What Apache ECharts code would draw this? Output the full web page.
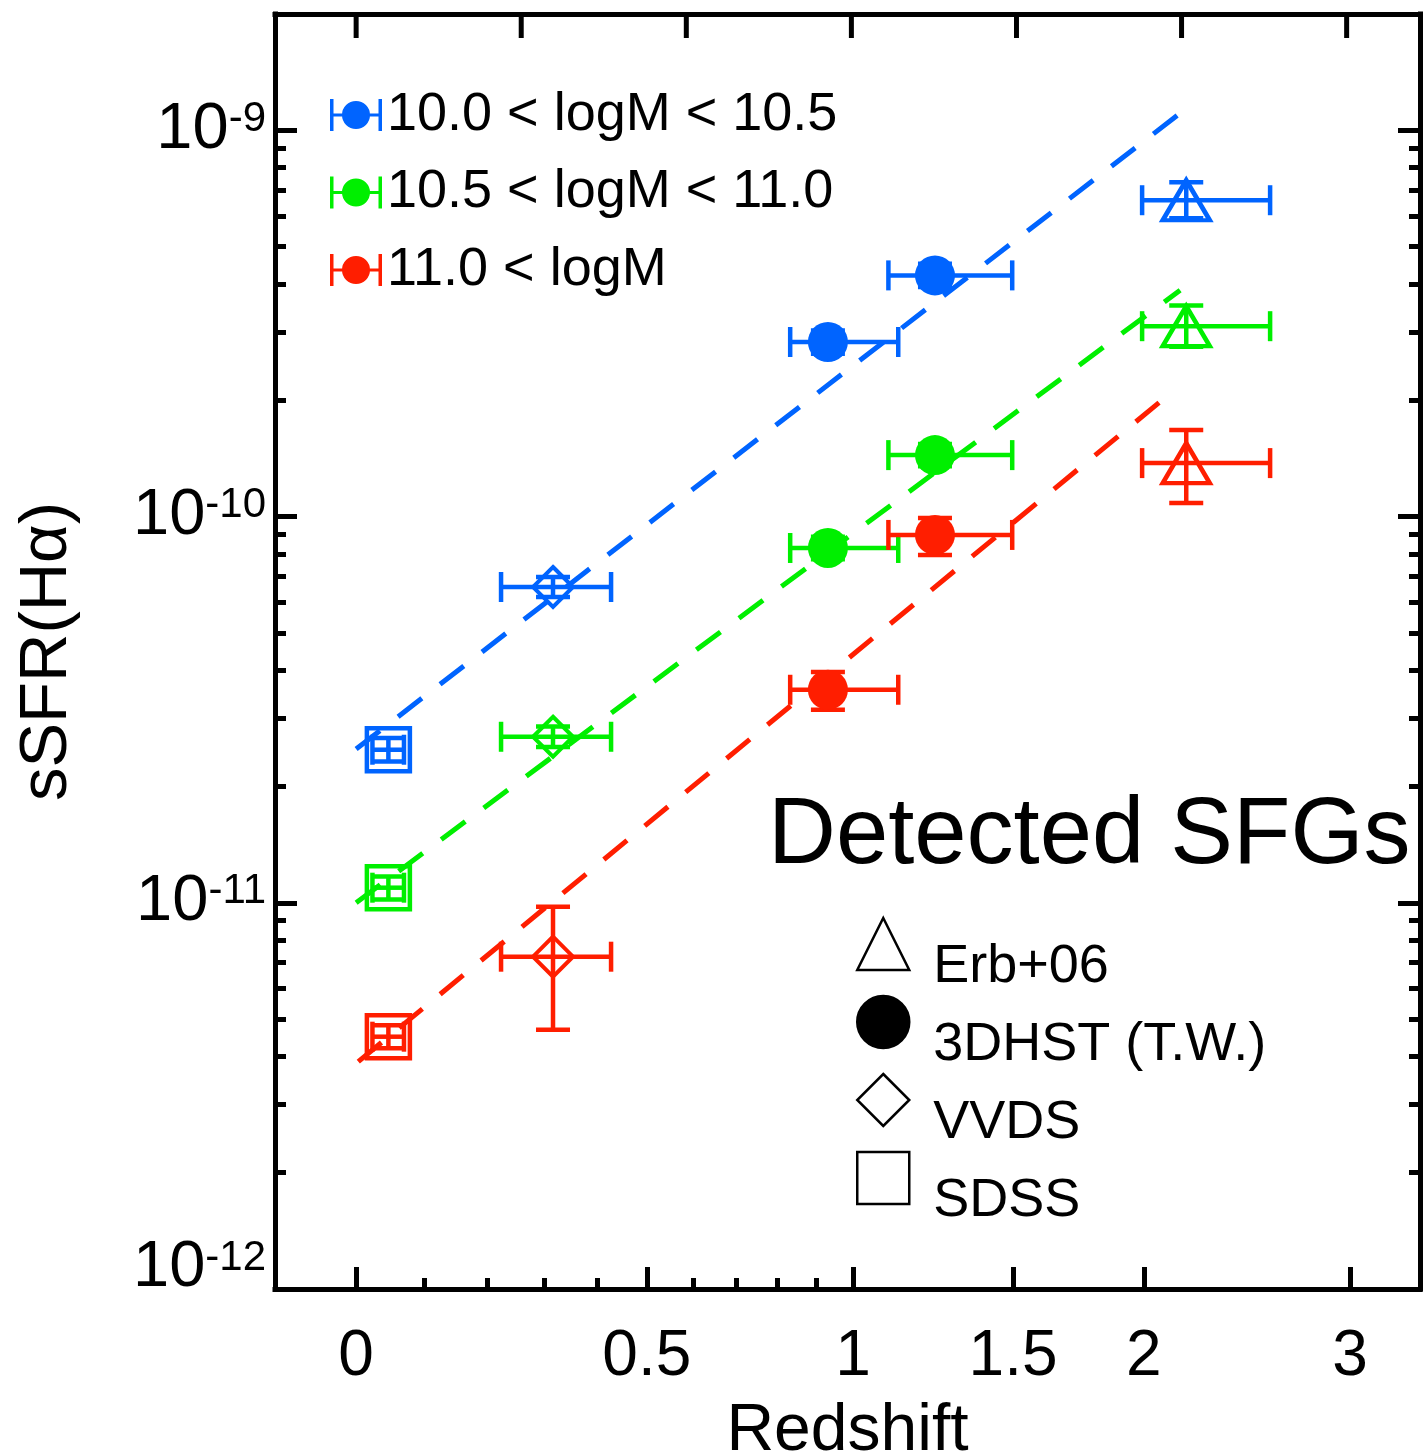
<!DOCTYPE html>
<html>
<head>
<meta charset="utf-8">
<script src="https://cdn.jsdelivr.net/npm/echarts@6/dist/echarts.min.js"></script>
<style>
html,body{margin:0;padding:0;background:#fff;}
#chart{width:1425px;height:1454px;}
</style>
</head>
<body>
<div id="chart"></div>
<script>
// ---------------- DATA ----------------
const massBins = ['10.0 < logM < 10.5', '10.5 < logM < 11.0', '11.0 < logM'];
const surveys = ['Erb+06', '3DHST (T.W.)', 'VVDS', 'SDSS'];
// one entry per measurement redshift bin (SDSS, VVDS, 3DHST low, 3DHST high, Erb+06)
const pointSurvey = ['SDSS', 'VVDS', '3DHST (T.W.)', '3DHST (T.W.)', 'Erb+06'];
const redshift   = [0.046, 0.316, 0.931, 1.242, 2.183];
const redshiftLo = [0.023, 0.224, 0.832, 1.101, 1.993];
const redshiftHi = [0.069, 0.427, 1.130, 1.497, 2.578];

const ssfrBin1   = [2.49e-11, 6.57e-11, 2.83e-10, 4.21e-10, 6.59e-10];
const ssfrBin1Lo = [2.32e-11, 6.19e-11, 2.64e-10, 3.93e-10, 5.92e-10];
const ssfrBin1Hi = [2.67e-11, 6.97e-11, 3.03e-10, 4.51e-10, 7.34e-10];

const ssfrBin2   = [1.094e-11, 2.69e-11, 8.29e-11, 1.442e-10, 3.11e-10];
const ssfrBin2Lo = [1.02e-11, 2.53e-11, 7.75e-11, 1.35e-10, 2.75e-10];
const ssfrBin2Hi = [1.17e-11, 2.86e-11, 8.87e-11, 1.54e-10, 3.52e-10];

const ssfrBin3   = [4.50e-12, 7.25e-12, 3.56e-11, 8.96e-11, 1.375e-10];
const ssfrBin3Lo = [4.20e-12, 4.69e-12, 3.16e-11, 7.95e-11, 1.084e-10];
const ssfrBin3Hi = [4.82e-12, 9.77e-12, 3.96e-11, 9.91e-11, 1.675e-10];

// dashed fits: sSFR ∝ (1+z)^n, drawn between two redshifts
const fitStartZ    = [0.0, 0.0, 0.003];
const fitEndZ      = [2.156, 2.156, 2.09];
const fitStartSSFR = [2.5e-11, 1.0e-11, 3.88e-12];
const fitEndSSFR   = [1.107e-9, 3.855e-10, 2.03e-10];

// axes
const xTickZ = [0, 0.5, 1, 1.5, 2, 3];
const xTickLabels = ['0', '0.5', '1', '1.5', '2', '3'];
const xMinorZ = [0.1, 0.2, 0.3, 0.4, 0.6, 0.7, 0.8, 0.9];
const xTopTicksLog = [0, 0.1, 0.2, 0.3, 0.4, 0.5, 0.6];
const yDecades = [-12, -11, -10, -9];
const zRange = [-0.107, 3.41];
const ssfrRange = [1e-12, 2e-9];

// ---------------- STYLE ----------------
const FONT = "'Liberation Sans', Arial, Helvetica, sans-serif";
const binColors = ['#0064ff', '#00ef00', '#ff1e00'];
const surveySymbol = {'Erb+06': 'triangle', '3DHST (T.W.)': 'circle', 'VVDS': 'diamond', 'SDSS': 'rect'};
const surveySize = {'Erb+06': [47, 40], '3DHST (T.W.)': 40, 'VVDS': 40, 'SDSS': 43};

const lx = z => Math.log10(1 + z);
const ly = v => Math.log10(v);

const ssfr = [ssfrBin1, ssfrBin2, ssfrBin3];
const ssfrLo = [ssfrBin1Lo, ssfrBin2Lo, ssfrBin3Lo];
const ssfrHi = [ssfrBin1Hi, ssfrBin2Hi, ssfrBin3Hi];

const xMin = lx(zRange[0]), xMax = lx(zRange[1]);
const yMin = ly(ssfrRange[0]), yMax = ly(ssfrRange[1]);

const yMinor = [];
yDecades.forEach(d => { for (let k = 2; k <= 9; k++) { const v = d + Math.log10(k); if (v < yMax - 0.001) yMinor.push(v); } });

const series = [];

// dashed fit lines
massBins.forEach((name, b) => {
  series.push({
    name: name, type: 'line', xAxisIndex: 0, yAxisIndex: 0,
    data: [[lx(fitStartZ[b]), ly(fitStartSSFR[b])], [lx(fitEndZ[b]), ly(fitEndSSFR[b])]],
    showSymbol: false, symbol: 'none', silent: true, z: 2,
    color: binColors[b],
    itemStyle: {color: binColors[b]},
    lineStyle: {color: binColors[b], width: 5, type: [30, 23]}
  });
});

// error bars
function makeErrRender(color) {
  return function (params, api) {
    const x = api.value(0), y = api.value(1);
    const c = api.coord([x, y]);
    const xl = api.coord([api.value(2), y])[0];
    const xh = api.coord([api.value(3), y])[0];
    const yl = api.coord([x, api.value(4)])[1];
    const yh = api.coord([x, api.value(5)])[1];
    const capH = 15, capW = 17;
    const st = {stroke: color, lineWidth: 4.5, fill: null};
    const L = (x1, y1, x2, y2) => ({type: 'line', shape: {x1, y1, x2, y2}, style: st});
    return {type: 'group', children: [
      L(xl, c[1], xh, c[1]),
      L(xl, c[1] - capH, xl, c[1] + capH),
      L(xh, c[1] - capH, xh, c[1] + capH),
      L(c[0], yl, c[0], yh),
      L(c[0] - capW, yl, c[0] + capW, yl),
      L(c[0] - capW, yh, c[0] + capW, yh)
    ]};
  };
}
massBins.forEach((name, b) => {
  series.push({
    name: 'err ' + name, type: 'custom', xAxisIndex: 0, yAxisIndex: 0, z: 3, silent: true,
    renderItem: makeErrRender(binColors[b]),
    encode: {x: 0, y: 1},
    data: redshift.map((z, i) => [lx(z), ly(ssfr[b][i]), lx(redshiftLo[i]), lx(redshiftHi[i]), ly(ssfrLo[b][i]), ly(ssfrHi[b][i])])
  });
});

// markers, one series per survey
surveys.forEach(s => {
  const filled = s === '3DHST (T.W.)';
  const data = [];
  massBins.forEach((m, b) => {
    redshift.forEach((z, i) => {
      if (pointSurvey[i] !== s) return;
      data.push({
        value: [lx(z), ly(ssfr[b][i])],
        itemStyle: filled ? {color: binColors[b]} : {borderColor: binColors[b]}
      });
    });
  });
  series.push({
    name: s, type: 'scatter', xAxisIndex: 0, yAxisIndex: 0, z: 4, silent: true,
    symbol: surveySymbol[s], symbolSize: surveySize[s],
    itemStyle: filled ? {color: '#000', opacity: 1} : {color: 'rgba(0,0,0,0)', borderColor: '#000', borderWidth: s === 'VVDS' ? 4 : 4.5, opacity: 1},
    data: data
  });
});

// top-frame ticks (linear in log(1+z)), placed through the x scale
series.push({
  name: 'top ticks', type: 'custom', xAxisIndex: 0, yAxisIndex: 0, z: 5, silent: true,
  encode: {x: 0, y: 1},
  data: xTopTicksLog.map(v => [v, yMax]),
  renderItem: (params, api) => {
    const p = api.coord([api.value(0), api.value(1)]);
    return {type: 'line', shape: {x1: p[0], y1: p[1], x2: p[0], y2: p[1] + 24}, style: {stroke: '#000', lineWidth: 5}};
  }
});

const axisLineStyle = {color: '#000', width: 5, cap: 'square'};
const baseX = {type: 'value', min: xMin, max: xMax, splitLine: {show: false}, gridIndex: 0};
const baseY = {type: 'value', min: yMin, max: yMax, splitLine: {show: false}, gridIndex: 0};

const option = {
  animation: false,
  backgroundColor: '#fff',
  title: {
    text: 'Detected SFGs', left: 768, top: 790, padding: 0,
    textStyle: {fontFamily: FONT, fontSize: 94, fontWeight: 'normal', color: '#000', lineHeight: 94}
  },
  grid: {left: 275, right: 5, top: 14, bottom: 165, containLabel: false, outerBoundsMode: 'none'},
  legend: [
    {
      data: massBins.map(n => ({name: n, icon: 'path://M0,14.5L52,14.5L52,17.5L0,17.5Z M0,0L3.5,0L3.5,32L0,32Z M48.5,0L52,0L52,32L48.5,32Z M12,16A14,14,0,1,1,40,16A14,14,0,1,1,12,16Z'})),
      orient: 'vertical', left: 330, top: 87, itemWidth: 52, itemHeight: 32, itemGap: 21.5,
      selectedMode: false, padding: 0,
      itemStyle: {borderWidth: 0},
      textStyle: {fontFamily: FONT, fontSize: 54, color: '#000', lineHeight: 56}
    },
    {
      data: surveys,
      orient: 'vertical', left: 856, top: 894, itemWidth: 52, itemHeight: 52, itemGap: -22,
      selectedMode: false, padding: 0,
      itemStyle: {borderColor: '#000', borderWidth: 2.5},
      formatter: n => '{t|' + n + '}',
      textStyle: {
        fontFamily: FONT, fontSize: 54, color: '#000',
        rich: {t: {fontFamily: FONT, fontSize: 54, color: '#000', lineHeight: 38, padding: [46, 0, 0, 19]}}
      }
    }
  ],
  xAxis: [
    Object.assign({}, baseX, {
      position: 'bottom',
      axisLine: {show: true, onZero: false, lineStyle: axisLineStyle},
      axisTick: {show: true, inside: true, length: 22, lineStyle: {color: '#000', width: 5}, customValues: xTickZ.map(lx)},
      axisLabel: {
        show: true, margin: 36, customValues: xTickZ.map(lx),
        fontFamily: FONT, fontSize: 64, color: '#000',
        formatter: v => { let best = 0; xTickZ.forEach((z, i) => { if (Math.abs(lx(z) - v) < Math.abs(lx(xTickZ[best]) - v)) best = i; }); return xTickLabels[best]; }
      },
      name: 'Redshift', nameLocation: 'middle', nameGap: 110,
      nameTextStyle: {fontFamily: FONT, fontSize: 66, color: '#000'}
    }),
    Object.assign({}, baseX, {
      position: 'top',
      axisLine: {show: true, onZero: false, lineStyle: axisLineStyle},
      axisTick: {show: false},
      axisLabel: {show: false}
    }),
    Object.assign({}, baseX, {
      position: 'bottom',
      axisLine: {show: false, onZero: false},
      axisTick: {show: true, inside: true, length: 11, lineStyle: {color: '#000', width: 5}, customValues: xMinorZ.map(lx)},
      axisLabel: {show: false}
    })
  ],
  yAxis: [
    Object.assign({}, baseY, {
      position: 'left',
      axisLine: {show: true, onZero: false, lineStyle: axisLineStyle},
      axisTick: {show: true, inside: true, length: 22, lineStyle: {color: '#000', width: 5}, customValues: yDecades},
      axisLabel: {
        show: true, margin: 9, customValues: yDecades,
        formatter: v => { const e = Math.round(v); const s = '{b|10}{s|' + e + '}'; return e === -12 ? s + '\n{sp| }' : s; },
        rich: {
          b: {fontFamily: FONT, fontSize: 65, color: '#000', lineHeight: 64, verticalAlign: 'bottom'},
          s: {fontFamily: FONT, fontSize: 42, color: '#000', lineHeight: 16, verticalAlign: 'top'},
          sp: {fontSize: 10, lineHeight: 40}
        }
      },
      name: 'sSFR(Hα)', nameLocation: 'middle', nameGap: 194,
      nameTextStyle: {fontFamily: FONT, fontSize: 67, color: '#000'}
    }),
    Object.assign({}, baseY, {
      position: 'left',
      axisLine: {show: false, onZero: false},
      axisTick: {show: true, inside: true, length: 11, lineStyle: {color: '#000', width: 5}, customValues: yMinor},
      axisLabel: {show: false}
    }),
    Object.assign({}, baseY, {
      position: 'right',
      axisLine: {show: true, onZero: false, lineStyle: axisLineStyle},
      axisTick: {show: true, inside: true, length: 22, lineStyle: {color: '#000', width: 5}, customValues: yDecades},
      axisLabel: {show: false}
    }),
    Object.assign({}, baseY, {
      position: 'right',
      axisLine: {show: false, onZero: false},
      axisTick: {show: true, inside: true, length: 11, lineStyle: {color: '#000', width: 5}, customValues: yMinor},
      axisLabel: {show: false}
    })
  ],
  series: series
};

const chart = echarts.init(document.getElementById('chart'), null, {renderer: 'canvas'});
chart.setOption(option);
</script>
</body>
</html>
